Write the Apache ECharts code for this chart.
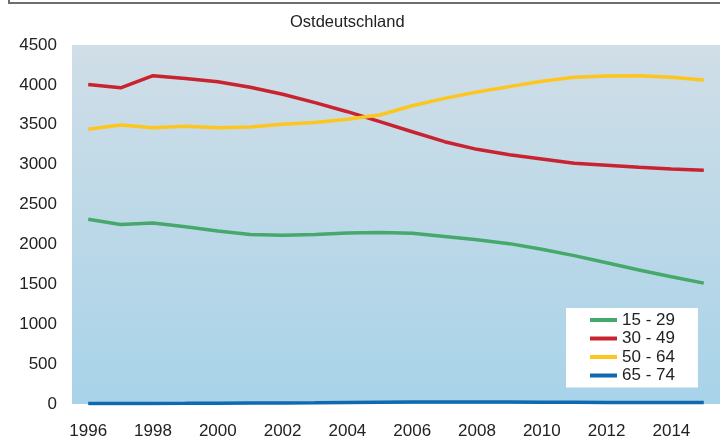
<!DOCTYPE html>
<html>
<head>
<meta charset="utf-8">
<script src="https://cdn.jsdelivr.net/npm/echarts@6/dist/echarts.min.js"></script>
<style>html,body{margin:0;padding:0;background:#fff}#c{width:720px;height:440px}</style>
</head>
<body>
<div id="c"></div>
<script>
var years = ['1996','1997','1998','1999','2000','2001','2002','2003','2004','2005','2006','2007','2008','2009','2010','2011','2012','2013','2014','2015'];
var age15_29 = [2315,2250,2268,2222,2168,2125,2114,2126,2142,2150,2140,2100,2060,2010,1940,1860,1770,1680,1595,1515];
var age30_49 = [4005,3963,4115,4080,4040,3970,3882,3777,3664,3539,3413,3288,3192,3125,3071,3017,2992,2967,2946,2929];
var age50_64 = [3443,3497,3464,3480,3464,3472,3506,3530,3568,3622,3739,3831,3911,3978,4045,4095,4111,4115,4095,4061];
var age65_74 = [5,6,7,8,10,12,14,16,19,22,25,26,26,25,23,21,19,18,18,19];
var seriesNames = ['15 - 29','30 - 49','50 - 64','65 - 74'];
var colors = ['#46a86a','#c8232f','#fdc61f','#0f69b1'];
var font = '"Liberation Sans", Arial, sans-serif';

var chart = echarts.init(document.getElementById('c'), null, {renderer:'canvas'});
var data = [age15_29, age30_49, age50_64, age65_74];
chart.setOption({
  animation: false,
  textStyle: {fontFamily: font},
  title: {
    text: 'Ostdeutschland', left: 290, top: 14, padding: 0,
    textStyle: {fontSize: 16.5, fontWeight: 'normal', color: '#222', fontFamily: font}
  },
  graphic: [{
    type: 'polyline', shape: {points: [[9,0],[9,3],[720,3]]},
    style: {stroke: '#6e6e6e', lineWidth: 2, fill: null}
  }],
  grid: {
    left: 72, top: 45, width: 655, bottom: 36,
    show: true, borderWidth: 0,
    backgroundColor: new echarts.graphic.LinearGradient(0,0,0,1,[
      {offset: 0, color: '#d0dee7'}, {offset: 1, color: '#a8d3e9'}
    ])
  },
  legend: {
    orient: 'vertical', left: 566, top: 308,
    padding: [3, 23, 3, 24], itemGap: 0.5,
    backgroundColor: '#ffffff',
    icon: 'rect', itemWidth: 27, itemHeight: 4,
    textStyle: {fontSize: 17, color: '#222', lineHeight: 18, fontFamily: font},
    data: seriesNames
  },
  xAxis: {
    type: 'category', data: years, boundaryGap: true,
    axisLine: {show: false}, axisTick: {show: false},
    axisLabel: {interval: 1, fontSize: 17, color: '#222', margin: 19, fontFamily: font}
  },
  yAxis: {
    type: 'value', min: 0, max: 4500, interval: 500,
    splitLine: {show: false}, axisLine: {show: false}, axisTick: {show: false},
    axisLabel: {fontSize: 17, color: '#222', margin: 15, fontFamily: font,
      formatter: function(v){ return String(v); }}
  },
  series: seriesNames.map(function(n, i){
    return {
      name: n, type: 'line', data: data[i], symbol: 'none',
      color: colors[i],
      lineStyle: {width: 3.5, color: colors[i]},
      z: i === 3 ? 5 : 2
    };
  })
});
</script>
</body>
</html>
